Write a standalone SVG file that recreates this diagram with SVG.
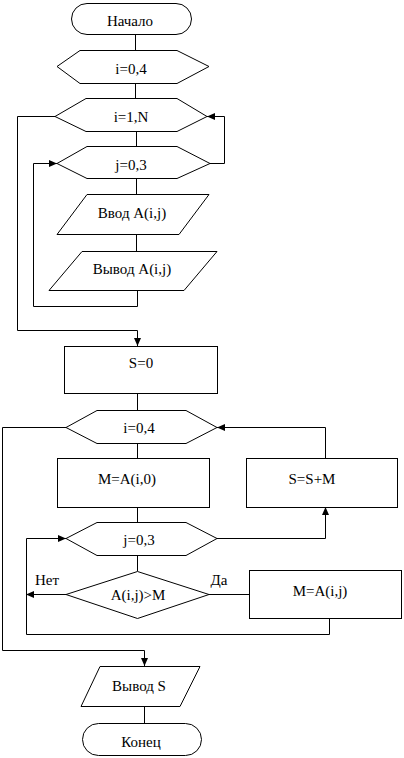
<svg xmlns="http://www.w3.org/2000/svg" width="404" height="758" viewBox="0 0 404 758">
<style>
.s{fill:#fff;stroke:#000;stroke-width:1}
.c{fill:none;stroke:#000;stroke-width:1}
text{font-family:'Liberation Serif',Tinos,'Times New Roman','DejaVu Serif',serif;font-size:15px;fill:#000;text-anchor:middle}
</style>
<defs>
<marker id="a" viewBox="0 0 8 8" refX="8" refY="4" markerWidth="8" markerHeight="8" markerUnits="userSpaceOnUse" orient="auto">
<path d="M0,0.5 L8,4 L0,7.5 z" fill="#000"/>
</marker>
</defs>
<rect width="404" height="758" fill="#fff"/>
<g id="connectors">
<path class="c" d="M135.5,34 V50"/>
<path class="c" d="M135.5,83 V98"/>
<path class="c" d="M136.5,131 V146"/>
<path class="c" d="M136.5,178 V194"/>
<path class="c" d="M136.5,234 V251"/>
<path class="c" d="M137.5,290 V306.5 H33.5 V163.5 H57" marker-end="url(#a)"/>
<path class="c" d="M210,163.5 H224.5 V116.5 H207" marker-end="url(#a)"/>
<path class="c" d="M55,116.5 H17.5 V330.5 H137.5 V346" marker-end="url(#a)"/>
<path class="c" d="M137.5,394 V410"/>
<path class="c" d="M137.5,443 V458"/>
<path class="c" d="M137.5,507 V522"/>
<path class="c" d="M217,538.5 H325.5 V507" marker-end="url(#a)"/>
<path class="c" d="M325.5,458 V427.5 H217" marker-end="url(#a)"/>
<path class="c" d="M137.5,555 V571"/>
<path class="c" d="M66,594.5 H26" marker-end="url(#a)"/>
<path class="c" d="M209,594.5 H249"/>
<path class="c" d="M329.5,618 V634.5 H26.5 V538.5 H66" marker-end="url(#a)"/>
<path class="c" d="M66,427.5 H2.5 V650.5 H144.5 V666" marker-end="url(#a)"/>
<path class="c" d="M144.5,706 V723"/>
</g>
<g id="start">
<rect class="s" x="71.5" y="3.5" width="120" height="31" rx="15.5"/>
<text x="130" y="26" font-family="Liberation Serif, serif">Начало</text>
</g>
<g id="loop_i04_a">
<polygon class="s" points="57,66.5 80,50.5 177,50.5 209,66.5 177,83.5 80,83.5"/>
<text x="131" y="74">i=0,4</text>
</g>
<g id="loop_i1N">
<polygon class="s" points="55,116.5 86,98.5 177,98.5 207,116.5 177,131.5 86,131.5"/>
<text x="131" y="122">i=1,N</text>
</g>
<g id="loop_j03_a">
<polygon class="s" points="57,163.5 87,146.5 177,146.5 210,163.5 177,178.5 87,178.5"/>
<text x="131" y="170">j=0,3</text>
</g>
<g id="input">
<polygon class="s" points="87,194.5 209,194.5 179,234.5 57,234.5"/>
<text x="132" y="218">Ввод A(i,j)</text>
</g>
<g id="output_a">
<polygon class="s" points="82,251.5 217,251.5 184,290.5 49,290.5"/>
<text x="132" y="274">Вывод A(i,j)</text>
</g>
<g id="s0">
<rect class="s" x="64.5" y="346.5" width="153" height="47"/>
<text x="141" y="368">S=0</text>
</g>
<g id="loop_i04_b">
<polygon class="s" points="66,427.5 97,410.5 186,410.5 217,427.5 186,443.5 97,443.5"/>
<text x="139" y="433">i=0,4</text>
</g>
<g id="m_init">
<rect class="s" x="57.5" y="458.5" width="152" height="49"/>
<text x="127" y="484">M=A(i,0)</text>
</g>
<g id="sum">
<rect class="s" x="246.5" y="458.5" width="151" height="49"/>
<text x="312" y="484">S=S+M</text>
</g>
<g id="loop_j03_b">
<polygon class="s" points="66,538.5 97,522.5 186,522.5 217,538.5 186,555.5 97,555.5"/>
<text x="139" y="545">j=0,3</text>
</g>
<g id="cond">
<polygon class="s" points="66,594.5 137.5,571.5 209,594.5 137.5,618.5"/>
<text x="138" y="600">A(i,j)&gt;M</text>
</g>
<text x="47" y="585">Нет</text>
<text x="219" y="585">Да</text>
<g id="m_set">
<rect class="s" x="249.5" y="570.5" width="152" height="48"/>
<text x="320" y="596">M=A(i,j)</text>
</g>
<g id="output_s">
<polygon class="s" points="100,666.5 200,666.5 180,706.5 81,706.5"/>
<text x="139" y="691">Вывод S</text>
</g>
<g id="end">
<rect class="s" x="82.5" y="723.5" width="119" height="32" rx="16"/>
<text x="141" y="747">Конец</text>
</g>
</svg>
